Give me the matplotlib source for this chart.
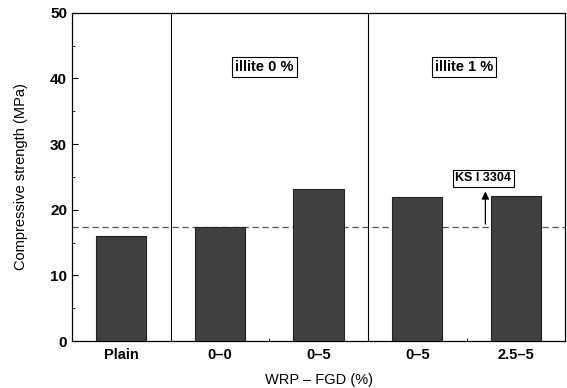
import matplotlib
matplotlib.use('Agg')
import matplotlib.pyplot as plt
import numpy as np

# Data
kategori = ['Plain', '0\u20130', '0\u20135', '0\u20135', '2.5\u20135']
kuat_tekan = [16.0, 17.4, 23.2, 21.9, 22.1]
ks_standar = 17.4  # KS I 3304

plt.rcParams['font.family'] = ['Liberation Sans', 'DejaVu Sans']

fig = plt.figure(figsize=(5.67, 3.88), dpi=100)
ax = fig.add_axes([0.127, 0.121, 0.87, 0.846])

x = np.arange(len(kategori))
ax.bar(x, kuat_tekan, width=0.51, color='#404040', edgecolor='#222222', linewidth=0.8, zorder=3)

# garis standar
ax.axhline(ks_standar, color='#555555', linestyle=(0, (5, 3)), linewidth=0.9, zorder=2)

# pemisah kelompok
ax.axvline(0.5, color='black', linewidth=0.8)
ax.axvline(2.5, color='black', linewidth=0.8)

ax.set_xlim(-0.5, 4.5)
ax.set_ylim(0, 50)
ax.set_xticks(x)
ax.set_xticklabels(kategori, fontsize=10.5, fontweight='bold')
ax.set_yticks(np.arange(0, 51, 10))
ax.set_yticks(np.arange(0, 51, 5), minor=True)
ax.set_xticks([0.5, 1.5, 2.5, 3.5], minor=True)
for lbl in ax.get_yticklabels():
    lbl.set_fontweight('bold')
    lbl.set_fontsize(11)
ax.tick_params(direction='in', length=4, width=0.8)
ax.tick_params(which='minor', direction='in', length=2, width=0.6)
ax.tick_params(axis='x', which='major', length=0, pad=5)

ax.set_ylabel('Compressive strength (MPa)', fontsize=10.5, labelpad=16)
ax.set_xlabel('WRP \u2013 FGD (%)', fontsize=10.5, labelpad=8)

kotak = dict(boxstyle='square,pad=0.2', facecolor='white', edgecolor='black', linewidth=0.8)
ax.text(1.45, 41.8, 'illite 0 %', ha='center', va='center', fontsize=10.5, fontweight='bold', bbox=kotak)
ax.text(3.47, 41.8, 'illite 1 %', ha='center', va='center', fontsize=10.5, fontweight='bold', bbox=kotak)

ax.annotate('', xy=(3.69, 23.2), xytext=(3.69, ks_standar),
            arrowprops=dict(arrowstyle='-|>', color='black', lw=0.9, mutation_scale=11))
ax.text(3.67, 24.8, 'KS I 3304', ha='center', va='center', fontsize=9, fontweight='bold', bbox=kotak)

for s in ax.spines.values():
    s.set_linewidth(0.9)

plt.savefig('out.png', dpi=100)
plt.close()
